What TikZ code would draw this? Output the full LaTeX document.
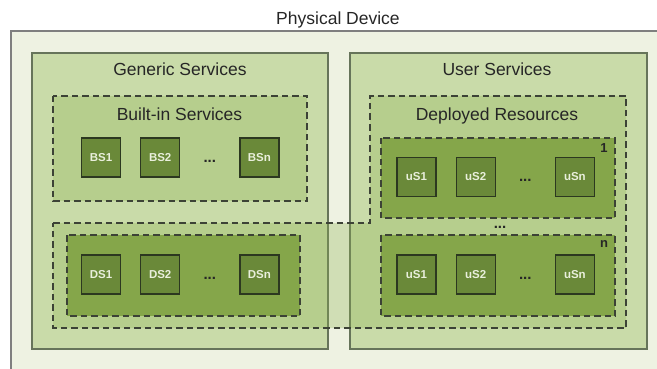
\documentclass[tikz,border=0pt]{standalone}
\usepackage{fontspec}
\setmainfont{Liberation Sans}
\usetikzlibrary{positioning}
\definecolor{devfill}{HTML}{EEF2E2}
\definecolor{devline}{HTML}{7F7F7F}
\definecolor{grpfill}{HTML}{C9DBA9}
\definecolor{grpline}{HTML}{66745A}
\definecolor{ovlfill}{HTML}{8DB04F}
\definecolor{resfill}{HTML}{85A64A}
\definecolor{svcfill}{HTML}{6A8939}
\definecolor{svcline}{HTML}{2C3820}
\definecolor{svctext}{HTML}{E9EFDC}
\definecolor{dashline}{HTML}{3C4236}

\begin{document}
\begin{tikzpicture}[x=1pt,y=-1pt,
  group/.style={draw=grpline,fill=grpfill,line width=1.3pt},
  region/.style={draw=dashline,dash pattern=on 6.5pt off 4pt,line width=1.2pt},
  svc/.style={draw=svcline,fill=svcfill,line width=1.2pt,minimum size=39pt,
              inner sep=0pt,text=svctext,font=\bfseries\fontsize{11.5}{13}\selectfont},
  dots/.style={font=\bfseries\fontsize{15}{16}\selectfont,text height=9pt,
               text depth=0pt,inner sep=0pt,text=black!85},
  title/.style={font=\fontsize{17.5}{20}\selectfont,anchor=base,text=black!85},
  idx/.style={font=\bfseries\fontsize{13}{15}\selectfont,anchor=base,text=black!85}]

  \clip (0,0) rectangle (657,369);

  % the device
  \draw[draw=devline,fill=devfill,line width=1.4pt] (11,31) rectangle (680,390);
  \node[title] (dev) at (338,25) {Physical Device};

  % generic and user sides
  \draw[group] (32,53) rectangle (328,349);
  \draw[group] (350,53) rectangle (647,349);
  \node[title] (gen) at (180,76) {Generic Services};
  \node[title] (usr) at (497,76) {User Services};

  % dashed regions
  \draw[region,fill=ovlfill,fill opacity=0.3] (53,96) rectangle (307,201);
  \draw[region,fill=ovlfill,fill opacity=0.3]
    (53,223) -- (370,223) -- (370,96) -- (626,96) -- (626,328) -- (53,328) -- cycle;
  \node[title] (bin) at (179.5,121) {Built-in Services};
  \node[title] (dep) at (497,121) {Deployed Resources};

  \draw[region,fill=resfill] (67,235) rectangle (300,316);
  \draw[region,fill=resfill] (381,138) rectangle (615,218);
  \draw[region,fill=resfill] (381,235) rectangle (615,316);
  \node[idx] (r1) at (604,153) {1};
  \node[idx] (rn) at (604,247) {n};
  \node[dots] (rdots) at (500,224) {...};

  % service boxes
  \foreach \row/\lbl/\x/\y in {b/BS/101/157.5, d/DS/101/274.5,
                               u/uS/416.5/177, v/uS/416.5/274.5} {
    \node[svc] (\row1) at (\x,\y) {\lbl1};
    \node[svc,right=19pt of \row1] (\row2) {\lbl2};
    \node[svc,right=59pt of \row2] (\row n) {\lbl n};
    \path (\row2) -- node[dots] (\row d) {...} (\row n);
  }
\end{tikzpicture}
\end{document}
